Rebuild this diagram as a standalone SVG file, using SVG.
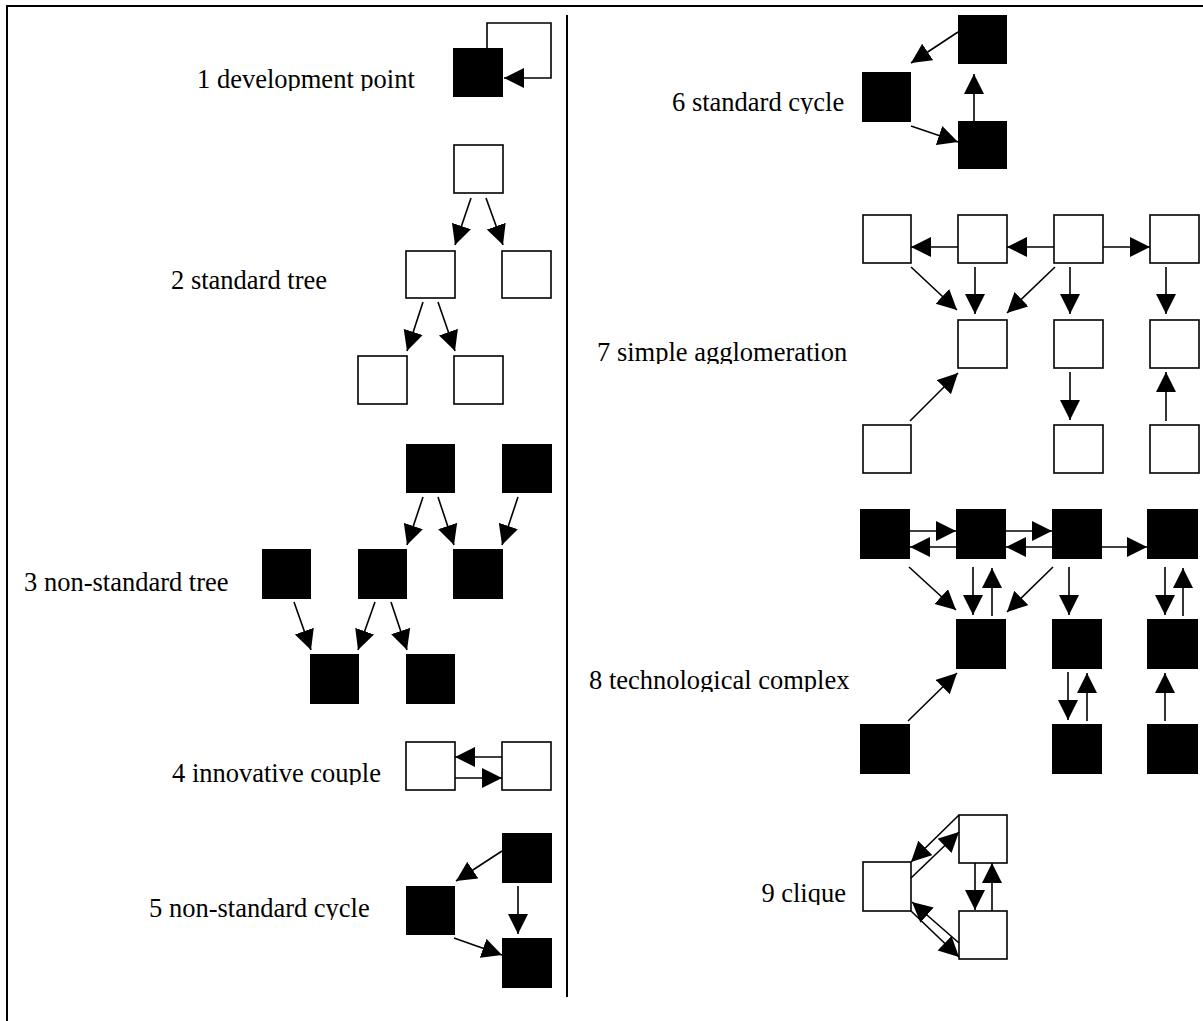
<svg xmlns="http://www.w3.org/2000/svg" width="1203" height="1021" viewBox="0 0 1203 1021">
  <style>
    .frame { fill: none; stroke: #000; stroke-width: 2; }
    .dark { fill: #000; stroke: none; }
    .light { fill: #fff; stroke: #000; stroke-width: 1.6; }
    .edge { fill: none; stroke: #000; stroke-width: 1.6; marker-end: url(#head); }
    .label { font-family: "Liberation Serif", "Times New Roman", serif; font-size: 26.5px; fill: #000; }
  </style>
  <defs>
    <marker id="head" markerUnits="userSpaceOnUse" markerWidth="21" markerHeight="21" refX="20" refY="10" orient="auto">
      <path d="M0,0 L20,10 L0,20 z" fill="#000"/>
    </marker>
    <!-- labels are cut just below the baseline -->
    <clipPath id="label-band" clipPathUnits="userSpaceOnUse">
      <rect x="180" y="55" width="260" height="36"/>
      <rect x="160" y="256" width="180" height="36"/>
      <rect x="10" y="558" width="240" height="36"/>
      <rect x="160" y="749" width="230" height="36"/>
      <rect x="140" y="884" width="240" height="36"/>
      <rect x="660" y="78" width="200" height="36"/>
      <rect x="585" y="328" width="275" height="36"/>
      <rect x="575" y="656" width="285" height="36"/>
      <rect x="750" y="869" width="105" height="36"/>
    </clipPath>
  </defs>

  <rect width="1203" height="1021" fill="#fff"/>

  <!-- page frame and column divider -->
  <g id="frame">
    <path class="frame" d="M7,1021 V6 H1203"/>
    <line x1="567" y1="15" x2="567" y2="997" stroke="#000" stroke-width="2"/>
  </g>

  <!-- captions -->
  <g id="labels" clip-path="url(#label-band)">
    <text class="label" x="197" y="88">1 development point</text>
    <text class="label" x="171" y="289">2 standard tree</text>
    <text class="label" x="24" y="591">3 non-standard tree</text>
    <text class="label" x="172" y="782">4 innovative couple</text>
    <text class="label" x="149" y="917">5 non-standard cycle</text>
    <text class="label" x="672" y="111">6 standard cycle</text>
    <text class="label" x="597" y="361">7 simple agglomeration</text>
    <text class="label" x="589" y="689">8 technological complex</text>
    <text class="label" x="846" y="902" text-anchor="end">9 clique</text>
  </g>

  <!-- 1 development point -->
  <g id="n1-point"><rect class="dark" x="453" y="48" width="50" height="49"/></g>

  <!-- 2 standard tree -->
  <g id="n2-a"><rect class="light" x="454" y="145" width="49" height="48"/></g>
  <g id="n2-b"><rect class="light" x="406" y="251" width="49" height="47"/></g>
  <g id="n2-c"><rect class="light" x="502" y="251" width="49" height="47"/></g>
  <g id="n2-d"><rect class="light" x="358" y="356" width="49" height="48"/></g>
  <g id="n2-e"><rect class="light" x="454" y="356" width="49" height="48"/></g>

  <!-- 3 non-standard tree -->
  <g id="n3-a"><rect class="dark" x="406" y="444" width="49" height="49"/></g>
  <g id="n3-b"><rect class="dark" x="502" y="444" width="50" height="49"/></g>
  <g id="n3-c"><rect class="dark" x="262" y="549" width="49" height="50"/></g>
  <g id="n3-d"><rect class="dark" x="358" y="549" width="49" height="50"/></g>
  <g id="n3-e"><rect class="dark" x="453" y="549" width="50" height="50"/></g>
  <g id="n3-f"><rect class="dark" x="310" y="654" width="49" height="50"/></g>
  <g id="n3-g"><rect class="dark" x="406" y="654" width="49" height="50"/></g>

  <!-- 4 innovative couple -->
  <g id="n4-a"><rect class="light" x="406" y="742" width="49" height="48"/></g>
  <g id="n4-b"><rect class="light" x="502" y="742" width="49" height="48"/></g>

  <!-- 5 non-standard cycle -->
  <g id="n5-a"><rect class="dark" x="502" y="833" width="50" height="50"/></g>
  <g id="n5-b"><rect class="dark" x="406" y="886" width="49" height="49"/></g>
  <g id="n5-c"><rect class="dark" x="502" y="938" width="50" height="50"/></g>

  <!-- 6 standard cycle -->
  <g id="n6-a"><rect class="dark" x="958" y="15" width="49" height="49"/></g>
  <g id="n6-b"><rect class="dark" x="862" y="72" width="49" height="50"/></g>
  <g id="n6-c"><rect class="dark" x="958" y="121" width="49" height="48"/></g>

  <!-- 7 simple agglomeration -->
  <g id="n7-r1c1"><rect class="light" x="863" y="215" width="48" height="48"/></g>
  <g id="n7-r1c2"><rect class="light" x="958" y="215" width="49" height="48"/></g>
  <g id="n7-r1c3"><rect class="light" x="1054" y="215" width="49" height="48"/></g>
  <g id="n7-r1c4"><rect class="light" x="1150" y="215" width="49" height="48"/></g>
  <g id="n7-r2c2"><rect class="light" x="958" y="320" width="49" height="48"/></g>
  <g id="n7-r2c3"><rect class="light" x="1054" y="320" width="49" height="48"/></g>
  <g id="n7-r2c4"><rect class="light" x="1150" y="320" width="49" height="48"/></g>
  <g id="n7-r3c1"><rect class="light" x="863" y="425" width="48" height="48"/></g>
  <g id="n7-r3c3"><rect class="light" x="1054" y="425" width="49" height="48"/></g>
  <g id="n7-r3c4"><rect class="light" x="1150" y="425" width="49" height="48"/></g>

  <!-- 8 technological complex -->
  <g id="n8-r1c1"><rect class="dark" x="860" y="509" width="50" height="50"/></g>
  <g id="n8-r1c2"><rect class="dark" x="956" y="509" width="50" height="50"/></g>
  <g id="n8-r1c3"><rect class="dark" x="1052" y="509" width="50" height="50"/></g>
  <g id="n8-r1c4"><rect class="dark" x="1147" y="509" width="51" height="50"/></g>
  <g id="n8-r2c2"><rect class="dark" x="956" y="619" width="50" height="50"/></g>
  <g id="n8-r2c3"><rect class="dark" x="1052" y="619" width="50" height="50"/></g>
  <g id="n8-r2c4"><rect class="dark" x="1147" y="619" width="51" height="50"/></g>
  <g id="n8-r3c1"><rect class="dark" x="860" y="724" width="50" height="50"/></g>
  <g id="n8-r3c3"><rect class="dark" x="1052" y="724" width="50" height="50"/></g>
  <g id="n8-r3c4"><rect class="dark" x="1147" y="724" width="51" height="50"/></g>

  <!-- 9 clique -->
  <g id="n9-a"><rect class="light" x="863" y="862" width="48" height="49"/></g>
  <g id="n9-b"><rect class="light" x="959" y="815" width="48" height="48"/></g>
  <g id="n9-c"><rect class="light" x="959" y="911" width="48" height="48"/></g>

  <!-- connectors -->
  <g id="connectors">
    <!-- 1 -->
    <path class="edge" d="M487,48 V23 H551 V78 H504"/>
    <!-- 2 -->
    <line class="edge" x1="471" y1="198" x2="455" y2="245"/>
    <line class="edge" x1="486" y1="198" x2="503" y2="245"/>
    <line class="edge" x1="423" y1="302" x2="407" y2="351"/>
    <line class="edge" x1="438" y1="302" x2="455" y2="351"/>
    <!-- 3 -->
    <line class="edge" x1="423" y1="497" x2="407" y2="545"/>
    <line class="edge" x1="438" y1="497" x2="454" y2="545"/>
    <line class="edge" x1="518" y1="497" x2="502" y2="545"/>
    <line class="edge" x1="294" y1="602" x2="311" y2="650"/>
    <line class="edge" x1="375" y1="602" x2="358" y2="650"/>
    <line class="edge" x1="391" y1="602" x2="407" y2="650"/>
    <!-- 4 -->
    <line class="edge" x1="502" y1="757" x2="455" y2="757"/>
    <line class="edge" x1="455" y1="778" x2="502" y2="778"/>
    <!-- 5 -->
    <line class="edge" x1="502" y1="851" x2="456" y2="881"/>
    <line class="edge" x1="518" y1="886" x2="518" y2="934"/>
    <line class="edge" x1="454" y1="938" x2="502" y2="955"/>
    <!-- 6 -->
    <line class="edge" x1="958" y1="32" x2="911" y2="63"/>
    <line class="edge" x1="974" y1="121" x2="974" y2="74"/>
    <line class="edge" x1="911" y1="126" x2="958" y2="142"/>
    <!-- 7 -->
    <line class="edge" x1="958" y1="247" x2="911" y2="247"/>
    <line class="edge" x1="1054" y1="247" x2="1007" y2="247"/>
    <line class="edge" x1="1103" y1="247" x2="1150" y2="247"/>
    <line class="edge" x1="911" y1="267" x2="957" y2="310"/>
    <line class="edge" x1="975" y1="267" x2="975" y2="314"/>
    <line class="edge" x1="1055" y1="267" x2="1007" y2="313"/>
    <line class="edge" x1="1070" y1="267" x2="1070" y2="314"/>
    <line class="edge" x1="1166" y1="267" x2="1166" y2="314"/>
    <line class="edge" x1="1070" y1="372" x2="1070" y2="420"/>
    <line class="edge" x1="1166" y1="421" x2="1166" y2="372"/>
    <line class="edge" x1="910" y1="421" x2="958" y2="373"/>
    <!-- 8 -->
    <line class="edge" x1="910" y1="531" x2="956" y2="531"/>
    <line class="edge" x1="956" y1="547" x2="910" y2="547"/>
    <line class="edge" x1="1006" y1="531" x2="1052" y2="531"/>
    <line class="edge" x1="1052" y1="547" x2="1006" y2="547"/>
    <line class="edge" x1="1102" y1="547" x2="1147" y2="547"/>
    <line class="edge" x1="909" y1="567" x2="956" y2="610"/>
    <line class="edge" x1="973" y1="567" x2="973" y2="615"/>
    <line class="edge" x1="992" y1="616" x2="992" y2="568"/>
    <line class="edge" x1="1053" y1="567" x2="1007" y2="612"/>
    <line class="edge" x1="1069" y1="567" x2="1069" y2="615"/>
    <line class="edge" x1="1165" y1="567" x2="1165" y2="615"/>
    <line class="edge" x1="1183" y1="616" x2="1183" y2="568"/>
    <line class="edge" x1="1068" y1="672" x2="1068" y2="720"/>
    <line class="edge" x1="1087" y1="721" x2="1087" y2="673"/>
    <line class="edge" x1="1165" y1="721" x2="1165" y2="673"/>
    <line class="edge" x1="908" y1="721" x2="957" y2="673"/>
    <!-- 9 -->
    <line class="edge" x1="959" y1="815" x2="911" y2="862"/>
    <line class="edge" x1="911" y1="878" x2="959" y2="832"/>
    <line class="edge" x1="975" y1="863" x2="975" y2="910"/>
    <line class="edge" x1="992" y1="911" x2="992" y2="863"/>
    <line class="edge" x1="911" y1="911" x2="959" y2="957"/>
    <line class="edge" x1="959" y1="943" x2="912" y2="902"/>
  </g>
</svg>
